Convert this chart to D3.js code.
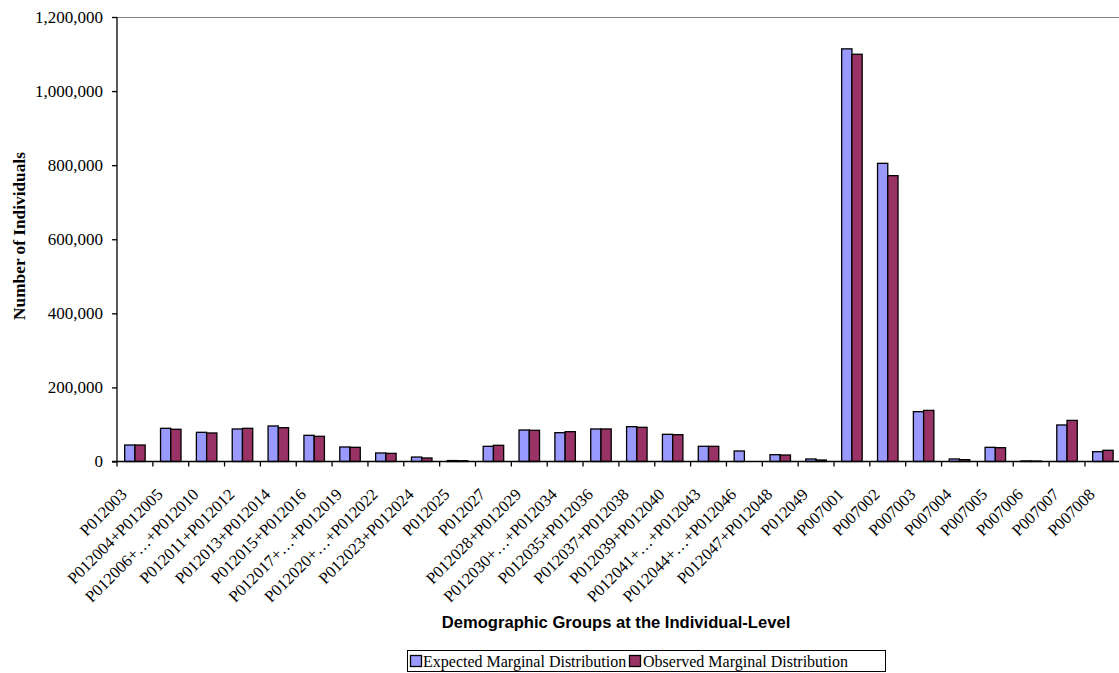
<!DOCTYPE html>
<html>
<head>
<meta charset="utf-8">
<script src="https://cdn.jsdelivr.net/npm/d3@7"></script>
<style>
  html, body { margin: 0; padding: 0; background: #fff; }
  svg { display: block; }
</style>
</head>
<body>
<svg id="chart" width="1119" height="673"></svg>
<script>
const categories = [
  "P012003", "P012004+P012005", "P012006+…+P012010", "P012011+P012012",
  "P012013+P012014", "P012015+P012016", "P012017+…+P012019", "P012020+…+P012022",
  "P012023+P012024", "P012025", "P012027", "P012028+P012029",
  "P012030+…+P012034", "P012035+P012036", "P012037+P012038", "P012039+P012040",
  "P012041+…+P012043", "P012044+…+P012046", "P012047+P012048", "P012049",
  "P007001", "P007002", "P007003", "P007004", "P007005", "P007006", "P007007", "P007008"
];
const seriesNames = ["Expected Marginal Distribution", "Observed Marginal Distribution"];
const expected = [
  44500, 89600, 78800, 87800, 95900, 70700, 39200, 23000,
  12000, 2500, 41000, 85000, 77800, 87800, 94000, 73400,
  41000, 28400, 18400, 6800, 1114000, 805000, 134500, 6800,
  38300, 1500, 98600, 26500
];
const observed = [
  44500, 87000, 77000, 89600, 91300, 68000, 38300, 22000,
  9500, 2000, 43700, 84200, 80500, 87800, 92300, 72400,
  41000, 0, 17500, 4000, 1099400, 771700, 138000, 5000,
  37300, 1200, 111000, 30200
];
const yTicks = [0, 200000, 400000, 600000, 800000, 1000000, 1200000];
const colors = ["#9999FF", "#993366"];

const svg = d3.select("#chart");
const pLeft = 117, pRight = 1120.8, pTop = 17, pBottom = 461.5;
const serif = "'Liberation Serif', 'Times New Roman', serif";

const x0 = d3.scaleBand().domain(categories).range([pLeft, pRight]).padding(0);
const x1 = d3.scaleBand().domain(seriesNames).range([0, x0.bandwidth()])
  .paddingInner(0).paddingOuter(0.75);
const y = d3.scaleLinear().domain([0, 1200000]).range([pBottom, pTop]);

// plot area border (top visible)
svg.append("line").attr("x1", pLeft).attr("x2", 1119).attr("y1", pTop + 0.5).attr("y2", pTop + 0.5)
  .attr("stroke", "#808080").attr("stroke-width", 1);

// bars
const data = categories.map((c, i) => ({ c, vals: [expected[i], observed[i]] }));
const g = svg.append("g");
data.forEach(d => {
  d.vals.forEach((v, si) => {
    g.append("rect")
      .attr("x", x0(d.c) + x1(seriesNames[si]))
      .attr("y", y(v))
      .attr("width", x1.bandwidth())
      .attr("height", Math.max(0, y(0) - y(v)))
      .attr("fill", colors[si])
      .attr("stroke", "#000")
      .attr("stroke-width", 1.3);
  });
});

// y axis
const yAxis = d3.axisLeft(y).tickValues(yTicks).tickSize(5).tickPadding(9)
  .tickFormat(d3.format(","));
const yg = svg.append("g").attr("transform", `translate(${pLeft},0)`).call(yAxis);
yg.select(".domain").attr("stroke", "#000").attr("stroke-width", 1.3).attr("d", `M0,${pTop}V${pBottom}`);
yg.selectAll(".tick line").attr("stroke", "#000").attr("stroke-width", 1.3);
yg.selectAll(".tick text").attr("font-family", serif)
  .attr("font-size", 17).attr("fill", "#000");

// x axis
const xAxis = d3.axisBottom(x0).tickSize(0).tickPadding(0);
const xg = svg.append("g").attr("transform", `translate(0,${pBottom})`).call(xAxis);
xg.select(".domain").attr("stroke", "#000").attr("stroke-width", 1.3).attr("d", `M${pLeft - 5},0H${pRight}`);
xg.selectAll(".tick text")
  .attr("font-family", serif)
  .attr("font-size", 16.5).attr("fill", "#000")
  .attr("text-anchor", "end")
  .attr("dy", 0)
  .attr("y", 0)
  .attr("transform", `translate(-7,34) rotate(-45)`);
// boundary ticks
const bounds = categories.map(c => x0(c)).concat([pRight]);
svg.append("g").selectAll("line").data(bounds).join("line")
  .attr("x1", d => d).attr("x2", d => d)
  .attr("y1", pBottom).attr("y2", pBottom + 5)
  .attr("stroke", "#000").attr("stroke-width", 1.3);

// axis titles
svg.append("text")
  .attr("transform", `translate(24.5,236) rotate(-90)`)
  .attr("text-anchor", "middle")
  .attr("font-family", serif)
  .attr("font-weight", "bold").attr("font-size", 17.3)
  .text("Number of Individuals");
svg.append("text")
  .attr("x", 616).attr("y", 628)
  .attr("text-anchor", "middle")
  .attr("font-family", "'Liberation Sans', Arial, sans-serif")
  .attr("font-weight", "bold").attr("font-size", 16.6)
  .text("Demographic Groups at the Individual-Level");

// legend
const lg = svg.append("g");
lg.append("rect").attr("x", 407.5).attr("y", 650.5).attr("width", 478).attr("height", 21)
  .attr("fill", "#fff").attr("stroke", "#000").attr("stroke-width", 1);
const legItems = [{ x: 410, tx: 423 }, { x: 629, tx: 643 }];
seriesNames.forEach((s, i) => {
  lg.append("rect").attr("x", legItems[i].x + 0.5).attr("y", 655.5).attr("width", 11).attr("height", 11)
    .attr("fill", colors[i]).attr("stroke", "#000").attr("stroke-width", 1.3);
  lg.append("text").attr("x", legItems[i].tx).attr("y", 667)
    .attr("font-family", serif)
    .attr("font-size", 16).text(s);
});
</script>
</body>
</html>
